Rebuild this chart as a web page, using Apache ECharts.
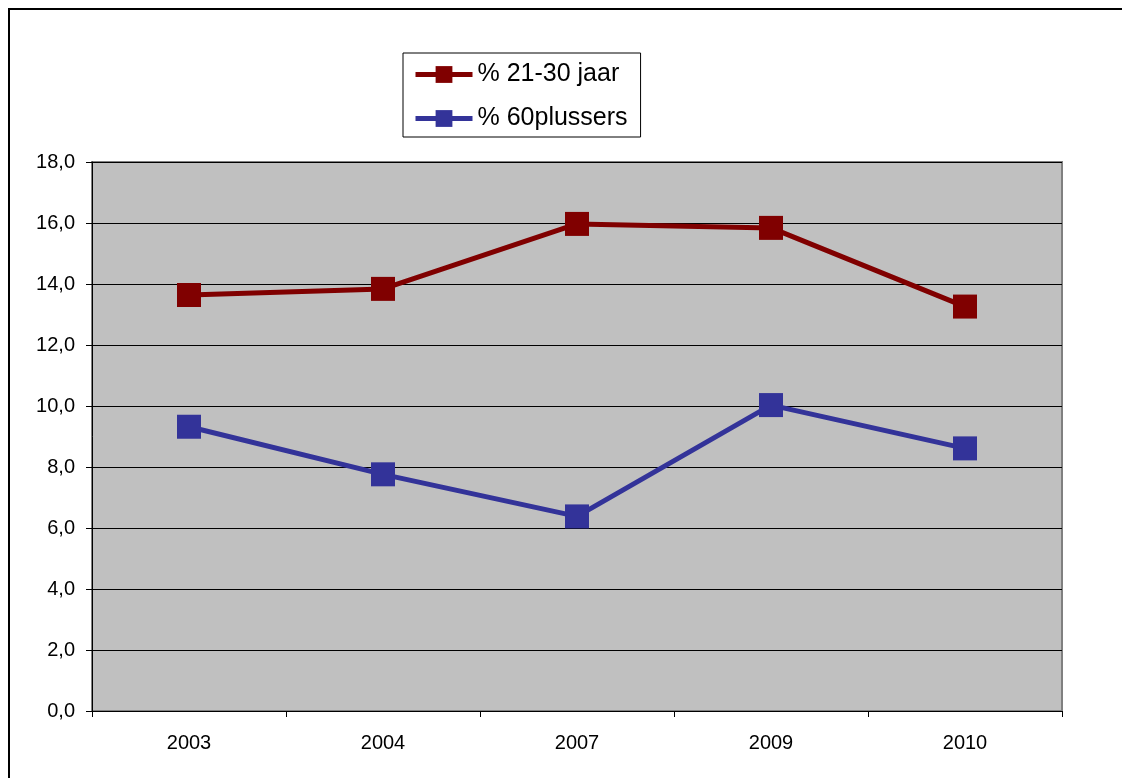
<!DOCTYPE html>
<html>
<head>
<meta charset="utf-8">
<script src="https://cdn.jsdelivr.net/npm/echarts@6/dist/echarts.min.js"></script>
<style>
  html, body { margin: 0; padding: 0; background: #fff; }
  #main { width: 1122px; height: 778px; }
</style>
</head>
<body>
<div id="main"></div>
<script>
var years = ['2003', '2004', '2007', '2009', '2010'];
var young = [13.64, 13.84, 15.97, 15.84, 13.26];
var elderly = [9.32, 7.76, 6.38, 10.03, 8.61];

var font = 'Liberation Sans, Arial, sans-serif';
var myChart = echarts.init(document.getElementById('main'));

myChart.setOption({
    animation: false,
    backgroundColor: '#fff',
    textStyle: { fontFamily: font },
    graphic: [
        {
            type: 'rect',
            shape: { x: 9, y: 9, width: 1130, height: 790 },
            style: { fill: null, stroke: '#000', lineWidth: 2 }
        }
    ],
    legend: {
        orient: 'vertical',
        left: 403,
        top: 53,
        padding: [9, 13, 6, 10],
        itemGap: 19,
        itemWidth: 57,
        itemHeight: 21,
        borderColor: '#000',
        borderWidth: 1,
        lineStyle: { width: 5 },
        textStyle: { fontSize: 25, color: '#000', fontFamily: font },
        data: ['% 21-30 jaar', '% 60plussers']
    },
    grid: {
        left: 92,
        right: 60,
        top: 162,
        bottom: 67,
        show: true,
        backgroundColor: '#c0c0c0',
        borderColor: '#808080',
        borderWidth: 2
    },
    xAxis: {
        type: 'category',
        data: years,
        boundaryGap: true,
        axisLine: { lineStyle: { color: '#000', width: 1 } },
        axisTick: { show: true, length: 6, lineStyle: { color: '#000' } },
        axisLabel: { fontSize: 20, color: '#000', margin: 22, fontFamily: font }
    },
    yAxis: {
        type: 'value',
        min: 0,
        max: 18,
        interval: 2,
        axisLine: { show: true, lineStyle: { color: '#000', width: 1 } },
        axisTick: { show: true, length: 6, lineStyle: { color: '#000' } },
        axisLabel: {
            fontSize: 20, color: '#000', margin: 17, fontFamily: font,
            formatter: function (v) { return v.toFixed(1).replace('.', ','); }
        },
        splitLine: { lineStyle: { color: '#000', width: 1 } }
    },
    series: [
        {
            name: '% 21-30 jaar',
            type: 'line',
            data: young,
            symbol: 'rect',
            symbolSize: 24,
            color: '#800000',
            lineStyle: { width: 5, color: '#800000' },
            itemStyle: { color: '#800000' }
        },
        {
            name: '% 60plussers',
            type: 'line',
            data: elderly,
            symbol: 'rect',
            symbolSize: 24,
            color: '#333399',
            lineStyle: { width: 5, color: '#333399' },
            itemStyle: { color: '#333399' }
        }
    ]
});
</script>
</body>
</html>
